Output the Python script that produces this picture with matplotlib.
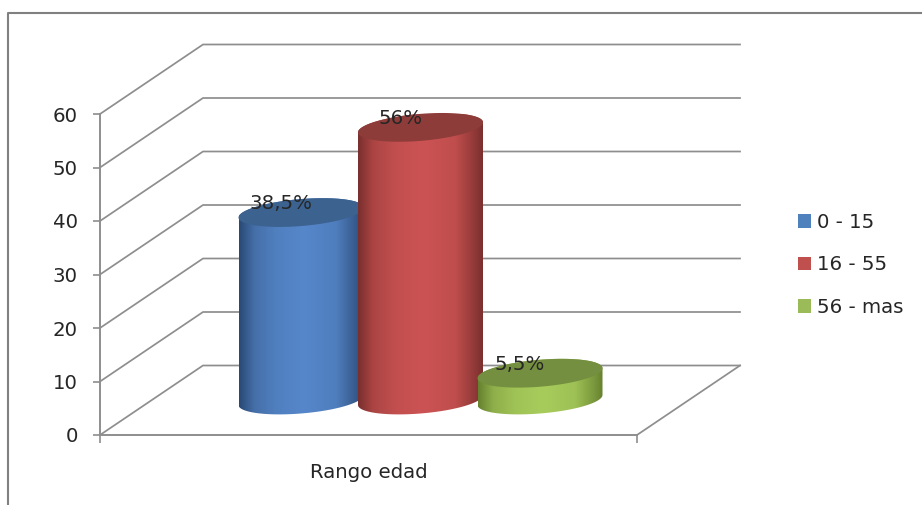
import numpy as np
import matplotlib
matplotlib.use("Agg")
import matplotlib.pyplot as plt
from matplotlib.colors import LinearSegmentedColormap, to_rgb
from matplotlib.lines import Line2D
from matplotlib.patches import Patch, Polygon

# datos del grafico
rangos = ['0 - 15', '16 - 55', '56 - mas']
valores = [38.5, 56, 5.5]
etiquetas = ['38,5%', '56%', '5,5%']
ticks_y = [0, 10, 20, 30, 40, 50, 60]
categoria = 'Rango edad'

# colores: borde, centro, tapa
colores = [
    ('#2a4a76', '#5687ca', '#3c6290'),
    ('#7a302e', '#cc5353', '#8e3c39'),
    ('#67822f', '#a8cc5c', '#748f3f'),
]
color_leyenda = ['#4f81bd', '#c0504d', '#9bbb59']
gris = '#8e8e8e'
texto = '#262626'

W, H = 922, 505
fig = plt.figure(figsize=(W / 100, H / 100), dpi=100)
ax = fig.add_axes([100 / W, 1 - 435 / H, 537 / W, 321 / H])
ax.patch.set_alpha(0)

# pixeles por unidad de cada eje
px_x = 537
px_y = 321 / 60

# profundidad de la caja 3D
fondo_x = 103 / px_x
fondo_y = 69.5 / px_y

ax.set_xlim(0, 1)
ax.set_ylim(0, 60)

# =========================================
# Caja 3D
# =========================================
for v in ticks_y:
    ax.plot([0, fondo_x, 1 + fondo_x], [v, v + fondo_y, v + fondo_y],
            color=gris, lw=1.25, clip_on=False, zorder=1)
ax.plot([1, 1 + fondo_x], [0, fondo_y], color=gris, lw=1.25, clip_on=False, zorder=1)

for s in ['top', 'right']:
    ax.spines[s].set_visible(False)
for s in ['left', 'bottom']:
    ax.spines[s].set_color(gris)
    ax.spines[s].set_linewidth(1.4)

ax.set_yticks(ticks_y)
ax.set_xticks([0, 1])
ax.set_xticklabels(['', ''])
ax.tick_params(axis='y', length=5, width=1.2, color=gris, pad=11,
               labelsize=14.2, labelcolor=texto)
ax.tick_params(axis='x', length=6, width=1.2, color=gris)
ax.set_xlabel(categoria, fontsize=14.2, color=texto, labelpad=11)

# =========================================
# Cilindros
# =========================================
centros = [(301 - 100) / px_x, (420.5 - 100) / px_x, (540 - 100) / px_x]
radio_x = 62.5 / px_x
radio_y = 13.5 / px_y
inclinacion = 5 / px_y
base = 35 / px_y
# los cilindros estan a media profundidad, la perspectiva los encoge
perspectiva = 0.91


def elipse(cx, cy, t):
    return np.column_stack([cx + radio_x * np.cos(t),
                            cy + radio_y * np.sin(t) + inclinacion * np.cos(t)])


def mezcla(a, b, f):
    return tuple((1 - f) * np.array(to_rgb(a)) + f * np.array(to_rgb(b)))


for i, v in enumerate(valores):
    cx = centros[i]
    h = v * perspectiva
    borde, centro, tapa = colores[i]
    z = 3 + i

    abajo = elipse(cx, base, np.linspace(np.pi, 2 * np.pi, 60))
    arriba = elipse(cx, base + h, np.linspace(0, np.pi, 60))
    cuerpo = Polygon(np.vstack([abajo, arriba]), closed=True, transform=ax.transData,
                     fc='none', ec='none')
    ax.add_patch(cuerpo)

    cmap = LinearSegmentedColormap.from_list(
        'c', [(0, borde), (0.12, mezcla(borde, centro, 0.6)), (0.3, mezcla(borde, centro, 0.88)),
              (0.52, centro), (0.78, mezcla(borde, centro, 0.85)),
              (0.93, mezcla(borde, centro, 0.3)), (1, borde)])
    im = ax.imshow(np.linspace(0, 1, 200).reshape(1, -1), cmap=cmap, aspect='auto',
                   extent=[cx - radio_x, cx + radio_x, base - radio_y - inclinacion,
                           base + h + radio_y + inclinacion],
                   zorder=z, clip_on=True)
    im.set_clip_path(cuerpo)

    ax.add_patch(Polygon(elipse(cx, base + h, np.linspace(0, 2 * np.pi, 120)), closed=True,
                         fc=tapa, ec='none', zorder=z + 0.5, clip_on=False))

    ax.annotate(etiquetas[i], (cx, base + h), xytext=(-20, 9), textcoords='offset pixels',
                ha='center', va='center', fontsize=14.2, color=texto, zorder=10,
                annotation_clip=False)

ax.set_xlim(0, 1)
ax.set_ylim(0, 60)

# =========================================
# Leyenda y marco
# =========================================
handles = [Patch(fc=c, ec='none') for c in color_leyenda]
ax.legend(handles, rangos, loc='center left', bbox_to_anchor=(798 / W, 1 - 265 / H),
          bbox_transform=fig.transFigure, frameon=False, fontsize=14.2,
          handlelength=0.68, handleheight=0.68, handletextpad=0.3, labelspacing=1.2,
          borderpad=0, borderaxespad=0, labelcolor=texto)

fig.add_artist(Line2D([8 / W, 8 / W, 1], [0, 1 - 13 / H, 1 - 13 / H],
                      transform=fig.transFigure, color='#808080', lw=1.5))

fig.savefig('out.png', dpi=100)
